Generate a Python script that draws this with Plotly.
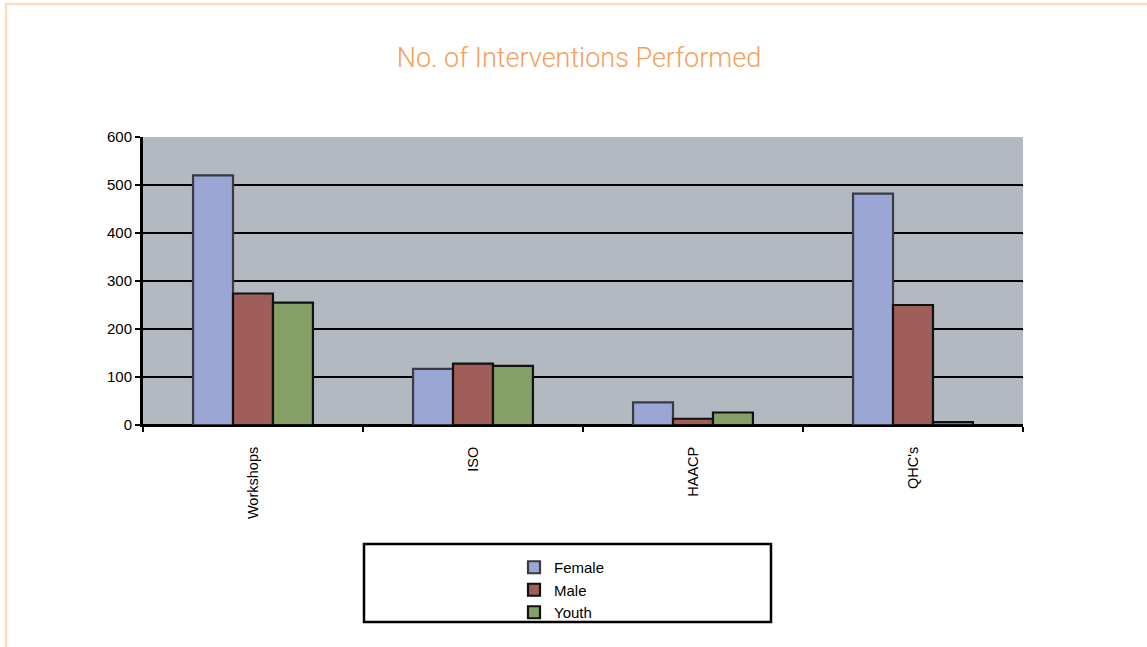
import plotly.graph_objects as go

categories = ["Workshops", "ISO", "HAACP", "QHC's"]
female = [520, 117, 47, 482]
male = [274, 128, 13, 250]
youth = [255, 123, 26, 6]
y_ticks = [0, 100, 200, 300, 400, 500, 600]

W, H = 1147, 647
L, R, T, B = 143, 124, 137, 222
pw, ph = W - L - R, H - T - B

def px(x):
    return (x - L) / pw

def py(y):
    return (H - B - y) / ph

fig = go.Figure()
fig.add_trace(go.Bar(name="Female", x=categories, y=female,
                     marker=dict(color="#9AA6D4", line=dict(color="#3A3A42", width=2.2))))
fig.add_trace(go.Bar(name="Male", x=categories, y=male,
                     marker=dict(color="#A05E58", line=dict(color="#111111", width=2.2))))
fig.add_trace(go.Bar(name="Youth", x=categories, y=youth,
                     marker=dict(color="#84A067", line=dict(color="#111111", width=2.2))))

fig.update_layout(
    width=W, height=H,
    margin=dict(l=L, r=R, t=T, b=B),
    paper_bgcolor="white",
    plot_bgcolor="#B3B9C1",
    barmode="group",
    bargap=0.455,
    bargroupgap=0,
    title=dict(text="No. of Interventions Performed", x=(579 / W), xanchor="center",
               y=1 - 58 / H, yanchor="middle",
               font=dict(family="Roboto", size=27, color="#F5A05C", weight=300)),
    font=dict(family="Liberation Sans, Arial", size=13, color="black"),
    showlegend=True,
    legend=dict(x=px(514), y=py(551), xanchor="left", yanchor="top",
                bgcolor="rgba(0,0,0,0)", font=dict(size=15, color="black"),
                tracegroupgap=0, itemwidth=30),
    xaxis=dict(type="category", tickson="boundaries", ticks="outside", ticklen=5,
               tickwidth=2, tickcolor="black", tickangle=-90,
               showline=True, linecolor="black", linewidth=2,
               showgrid=False, ticklabelstandoff=14,
               tickfont=dict(size=14.5)),
    yaxis=dict(range=[0, 600], tickvals=y_ticks, ticks="outside", ticklen=5,
               tickwidth=2, tickcolor="black",
               showline=True, linecolor="black", linewidth=3,
               showgrid=True, gridcolor="black", gridwidth=1.5,
               zeroline=True, zerolinecolor="black", zerolinewidth=2,
               tickfont=dict(size=15)),
    shapes=[
        dict(type="rect", xref="paper", yref="paper",
             x0=px(6), x1=px(1160), y0=py(4), y1=py(660),
             line=dict(color="#FDDDC0", width=2.5), layer="below"),
        dict(type="rect", xref="paper", yref="paper",
             x0=px(364), x1=px(771), y0=py(544), y1=py(622),
             line=dict(color="black", width=2.5)),
    ],
)

fig.write_html("out.html", config={"displayModeBar": False},
               post_script="document.body.style.margin='0';")
